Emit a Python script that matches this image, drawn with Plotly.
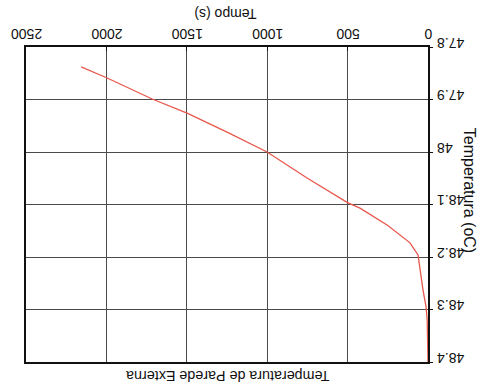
import plotly.graph_objects as go

tempo = [0, 5, 12, 31, 62, 112, 250, 423, 498, 750, 1001, 1250, 1499, 1716, 1996, 2158]
temperatura = [48.4, 48.32, 48.295, 48.263, 48.196, 48.173, 48.14, 48.107, 48.097, 48.05,
               48.0, 47.962, 47.926, 47.899, 47.859, 47.838]
x_ticks = [0, 500, 1000, 1500, 2000, 2500]
x_labels = ['0', '500', '1000', '1500', '2000', '2500']
y_ticks = [47.8, 47.9, 48.0, 48.1, 48.2, 48.3, 48.4]
y_labels = ['47.8', '47.9', '48', '48.1', '48.2', '48.3', '48.4']

# upside-down labels are anchored at one end; pad so the digits sit centred on the tick
x_text = ['\u00a0' * (4 - len(s)) + s for s in x_labels]

fig = go.Figure()
fig.add_trace(go.Scatter(x=tempo, y=temperatura, mode='lines',
                         line=dict(color='#e8574c', width=1.3), showlegend=False))

font = dict(family='Liberation Sans, Arial', size=14, color='#111')
fig.update_xaxes(range=[2501, 0], side='top', tickvals=x_ticks, ticktext=x_text,
                 tickangle=180, ticklabelshift=-16, ticklabelstandoff=-3,
                 ticklabeloverflow='allow',
                 showline=True, linecolor='#111', linewidth=1.5, mirror=True,
                 ticks='inside', ticklen=4, tickcolor='#111', automargin=False,
                 showgrid=True, gridcolor='#4a4a4a', gridwidth=1, zeroline=False,
                 tickfont=font)
fig.update_yaxes(range=[48.4, 47.8], side='right', tickvals=y_ticks, ticktext=y_labels,
                 tickangle=180, ticklabelposition='inside', ticklabeloverflow='allow',
                 ticklabelstandoff=-9,
                 showline=True, linecolor='#111', linewidth=1.5, mirror=True,
                 ticks='outside', ticklen=3, tickcolor='#111', automargin=False,
                 showgrid=True, gridcolor='#4a4a4a', gridwidth=1, zeroline=False,
                 tickfont=font)

fig.add_annotation(text='Temperatura de Parede Externa', textangle=180,
                   x=0.502, y=-0.045, xref='paper', yref='paper', yanchor='middle',
                   showarrow=False, font=dict(font, size=14.3))
fig.add_annotation(text='Tempo (s)', textangle=180,
                   x=0.497, y=1.105, xref='paper', yref='paper', yanchor='middle',
                   showarrow=False, font=font)
fig.add_annotation(text='Temperatura (oC)', textangle=90,
                   x=1.105, y=0.546, xref='paper', yref='paper', xanchor='center',
                   showarrow=False, font=dict(font, size=16))

fig.update_layout(width=479, height=389, margin=dict(l=26, r=51, t=47, b=27),
                  plot_bgcolor='white', paper_bgcolor='white')
fig.write_html('out.html', config={'displayModeBar': False},
               post_script="document.body.style.margin='0';")
